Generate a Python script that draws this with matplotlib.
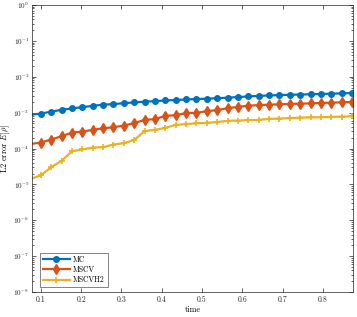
import matplotlib
matplotlib.use('Agg')
import matplotlib.pyplot as plt
import numpy as np
from matplotlib.ticker import LogLocator, FixedLocator, FixedFormatter, NullFormatter

##### Style (MATLAB-like, LaTeX look) #####
plt.rcParams['font.family'] = 'serif'
plt.rcParams['font.serif'] = ['cmr10', 'DejaVu Serif']
plt.rcParams['mathtext.fontset'] = 'cm'
plt.rcParams['axes.unicode_minus'] = False
plt.rcParams['axes.formatter.use_mathtext'] = True

##### Data #####
# first point sits just left of the axis limit (line enters from the edge, no marker)
time = np.linspace(0.0742, 0.8725, 32)

err_mc = [8.69e-4, 9.38e-4, 1.066e-3, 1.196e-3, 1.308e-3, 1.422e-3, 1.545e-3, 1.668e-3,
          1.722e-3, 1.836e-3, 1.920e-3, 2.021e-3, 2.086e-3, 2.182e-3, 2.239e-3, 2.326e-3,
          2.387e-3, 2.448e-3, 2.512e-3, 2.610e-3, 2.712e-3, 2.818e-3, 2.929e-3, 3.005e-3,
          3.083e-3, 3.143e-3, 3.183e-3, 3.244e-3, 3.307e-3, 3.371e-3, 3.436e-3, 3.525e-3]

err_mscv = [1.334e-4, 1.468e-4, 1.778e-4, 2.196e-4, 2.783e-4, 2.966e-4, 3.307e-4, 3.664e-4,
            3.906e-4, 4.355e-4, 5.109e-4, 6.268e-4, 6.597e-4, 8.095e-4, 8.521e-4, 9.685e-4,
            9.873e-4, 1.101e-3, 1.173e-3, 1.334e-3, 1.440e-3, 1.565e-3, 1.616e-3, 1.668e-3,
            1.700e-3, 1.744e-3, 1.778e-3, 1.812e-3, 1.859e-3, 1.896e-3, 1.932e-3, 1.982e-3]

err_mscvh2 = [1.422e-5, 1.778e-5, 3.024e-5, 4.552e-5, 8.36e-5, 9.38e-5, 1.066e-4, 1.087e-4,
              1.292e-4, 1.404e-4, 1.722e-4, 3.062e-4, 3.307e-4, 3.758e-4, 4.552e-4, 4.792e-4,
              5.045e-4, 5.21e-4, 5.446e-4, 5.918e-4, 5.995e-4, 6.188e-4, 6.268e-4, 6.683e-4,
              6.813e-4, 7.033e-4, 7.262e-4, 7.356e-4, 7.451e-4, 7.595e-4, 7.743e-4, 7.893e-4]

labels = ['MC', 'MSCV', 'MSCVH2']
x_ticks = [0.1, 0.2, 0.3, 0.4, 0.5, 0.6, 0.7, 0.8]
y_exps = [0, -1, -2, -3, -4, -5, -6, -7, -8]

##### Plot #####
c_blue = (0.0, 0.447, 0.741)
c_red = (0.850, 0.325, 0.098)
c_yel = (0.929, 0.694, 0.125)
axcol = (0.15, 0.15, 0.15)

fig = plt.figure(figsize=(3.57, 3.17), dpi=100)
ax = fig.add_axes([32 / 357, 25 / 317, 321 / 357, 287 / 317])

mk = range(1, len(time))
ax.plot(time, err_mc, '-o', color=c_blue, mfc=c_blue, lw=1.6, ms=4.0, markevery=mk, label=labels[0])
ax.plot(time, err_mscv, '-d', color=c_red, mfc=c_red, lw=1.6, ms=4.8, markevery=mk, label=labels[1])
ax.plot(time, err_mscvh2, '-+', color=c_yel, lw=1.6, ms=4.8, mew=1.2, markevery=mk, label=labels[2])

ax.set_yscale('log')
ax.set_xlim(0.078, 0.875)
ax.set_ylim(1e-8, 1)

ax.xaxis.set_major_locator(FixedLocator(x_ticks))
ax.set_xticklabels([f'{v:.1f}' for v in x_ticks])
ax.yaxis.set_major_locator(FixedLocator([10.0 ** e for e in y_exps]))
ax.yaxis.set_major_formatter(FixedFormatter([rf'$10^{{{e}}}$' for e in y_exps]))
ax.yaxis.set_minor_locator(LogLocator(base=10, subs=np.arange(2, 10), numticks=20))
ax.yaxis.set_minor_formatter(NullFormatter())

ax.tick_params(which='both', direction='in', top=True, right=True, colors=axcol, pad=2.5)
ax.tick_params(axis='x', labelsize=5.5)
ax.tick_params(axis='y', labelsize=5.2, pad=2)
ax.tick_params(which='major', length=3, width=0.5)
ax.tick_params(which='minor', length=1.6, width=0.5)
for s in ax.spines.values():
    s.set_color(axcol)
    s.set_linewidth(0.5)

ax.set_xlabel('time', fontsize=6, color='black', labelpad=1.5)
ax.set_ylabel(r'L2 error $E[\rho]$', fontsize=6, color='black')
ax.yaxis.set_label_coords(-0.062, 0.5)

leg = ax.legend(loc='lower left', bbox_to_anchor=(0.025, 0.017), fontsize=5.5, frameon=True,
                fancybox=False, edgecolor=axcol, handlelength=3.6, borderpad=0.35,
                labelspacing=0.25, handletextpad=0.4, borderaxespad=0)
leg.get_frame().set_linewidth(0.5)

plt.savefig('out.png', dpi=100)
plt.close()
